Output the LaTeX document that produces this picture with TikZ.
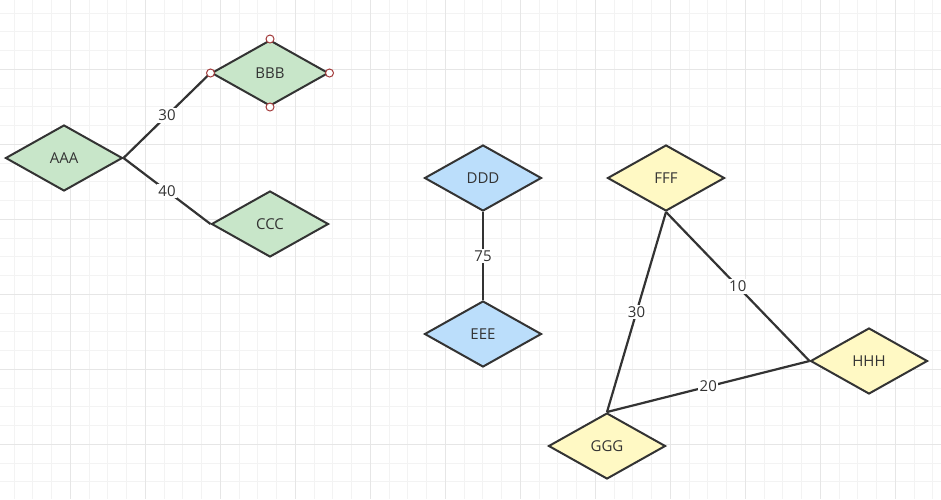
\documentclass[tikz,border=0pt]{standalone}
\usepackage{fontspec}
\setmainfont{Open Sans}
\usetikzlibrary{shapes.geometric}
\definecolor{gridminor}{HTML}{F3F3F3}
\definecolor{gridmajor}{HTML}{E6E6E6}
\definecolor{greenfill}{HTML}{C8E6C9}
\definecolor{bluefill}{HTML}{BBDEFB}
\definecolor{yellowfill}{HTML}{FFF9C4}
\definecolor{ink}{HTML}{333333}
\definecolor{handle}{HTML}{A33B3B}
\tikzset{
  rhomb/.style={diamond,draw=ink,line width=2pt,minimum width=117pt,minimum height=66pt,
    inner sep=0pt,text=ink,font=\fontsize{15}{17}\selectfont},
  link/.style={draw=ink,line width=2.2pt},
  weight/.style={fill=white,text=ink,inner sep=1.5pt,font=\fontsize{15}{17}\selectfont},
  grip/.style={circle,draw=handle,fill=white,line width=1pt,minimum size=8pt,inner sep=0pt}
}
\begin{document}
\begin{tikzpicture}[x=1pt,y=-1pt]
  \useasboundingbox (0,0) rectangle (941,499);
  \fill[white] (0,0) rectangle (941,499);
  \begin{scope}
    \clip (0,0) rectangle (941,499);
    \foreach \k in {1,...,51} {
      \draw[gridminor,line width=1pt] (-4.75+18.75*\k,0) -- +(0,499);
    }
    \foreach \k in {1,...,27} {
      \draw[gridminor,line width=1pt] (0,-5.75+18.75*\k) -- +(941,0);
    }
    \foreach \k in {0,...,12} {
      \draw[gridmajor,line width=1pt] (70.5+75*\k,0) -- +(0,499);
    }
    \foreach \k in {0,...,6} {
      \draw[gridmajor,line width=1pt] (0,69.25+75*\k) -- +(941,0);
    }
  \end{scope}
  \node[rhomb,fill=greenfill] (aaa) at (64,158) {AAA};
  \node[rhomb,fill=greenfill] (bbb) at (270,73) {BBB};
  \node[rhomb,fill=greenfill] (ccc) at (270,224) {CCC};
  \node[rhomb,fill=bluefill] (ddd) at (483,178) {DDD};
  \node[rhomb,fill=bluefill] (eee) at (483,334) {EEE};
  \node[rhomb,fill=yellowfill] (fff) at (666,178) {FFF};
  \node[rhomb,fill=yellowfill] (ggg) at (607,446) {GGG};
  \node[rhomb,fill=yellowfill] (hhh) at (869,361) {HHH};
  \draw[link] (aaa.east) -- (bbb.west) node[midway,weight] {30};
  \draw[link] (aaa.east) -- (ccc.west) node[midway,weight] {40};
  \draw[link] (ddd.south) -- (eee.north) node[midway,weight] {75};
  \draw[link] (fff.south) -- (ggg.north) node[midway,weight] {30};
  \draw[link] (fff.south) -- (hhh.west) node[midway,weight] {10};
  \draw[link] (ggg.north) -- (hhh.west) node[midway,weight] {20};
  \foreach \a in {north,south,east,west} {
    \node[grip] (bbb-\a) at (bbb.\a) {};
  }
\end{tikzpicture}
\end{document}
